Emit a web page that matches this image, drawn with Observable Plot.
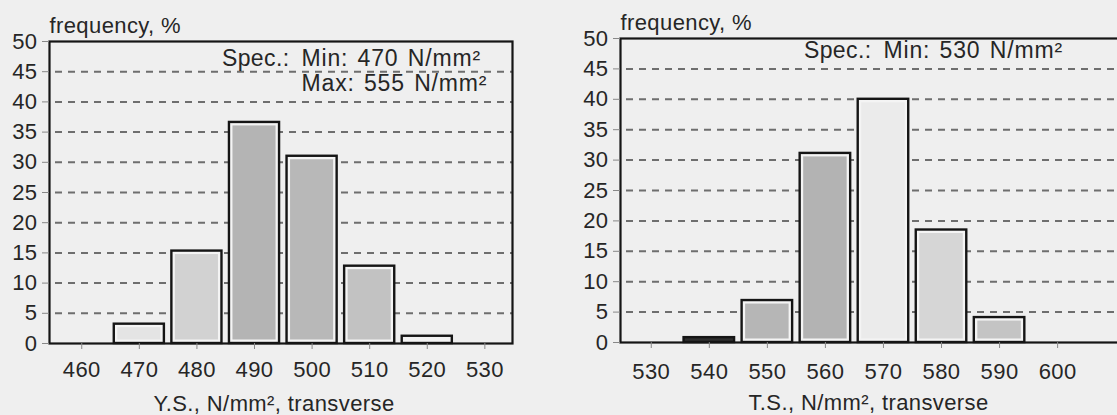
<!DOCTYPE html>
<html>
<head>
<meta charset="utf-8">
<script src="https://cdn.jsdelivr.net/npm/d3@7"></script>
<script src="https://cdn.jsdelivr.net/npm/@observablehq/plot@0.6"></script>
<style>
  html, body { margin: 0; padding: 0; background: #efefef; }
  #wrap { display: flex; width: 1117px; height: 415px; overflow: hidden; background: #efefef; }
  #wrap svg { flex: none; display: block; }
</style>
</head>
<body>
<div id="wrap"></div>
<script>
// ---- data ----
const ysBins = [470, 480, 490, 500, 510, 520];
const ysFreq = [3.2, 15.3, 36.6, 31.0, 12.8, 1.2];
const tsBins = [540, 550, 560, 570, 580, 590];
const tsFreq = [0.8, 6.9, 31.1, 40.0, 18.5, 4.1];
const ysTicks = [460, 470, 480, 490, 500, 510, 520, 530];
const tsTicks = [530, 540, 550, 560, 570, 580, 590, 600];
const yTicks = [0, 5, 10, 15, 20, 25, 30, 35, 40, 45, 50];
const yLabel = "frequency, %";
const ysTitle = "Y.S., N/mm², transverse";
const tsTitle = "T.S., N/mm², transverse";
const ysSpecHead = "Spec.:";
const ysSpecLines = ["Min: 470 N/mm²", "Max: 555 N/mm²"];
const tsSpecHead = "Spec.:";
const tsSpecLines = ["Min: 530 N/mm²"];

// ---- styles ----
const ysShades = ["#e4e4e4", "#d2d2d2", "#b4b4b4", "#b8b8b8", "#c2c2c2", "#f2f2f2"];
const tsShades = ["#2e2e2e", "#b6b6b6", "#b3b3b3", "#ebebeb", "#d6d6d6", "#c4c4c4"];
const HALF = 4.35;
const FONT = "'Liberation Sans', Arial, Helvetica, sans-serif";
const INK = "#262626";

function table(bins, freq, shades) {
  return bins.map((b, i) => ({bin: b, freq: freq[i], shade: shades[i]}));
}

function chart(o) {
  const data = table(o.bins, o.freq, o.shades);
  const marks = [
    Plot.gridY(yTicks.filter(v => v > 0 && v < 50), {
      stroke: "#6e6e6e", strokeOpacity: 1, strokeWidth: 2, strokeDasharray: "7,6", strokeDashoffset: -6
    }),
    Plot.rect(data, {x1: d => d.bin - HALF, x2: d => d.bin + HALF, y1: 0, y2: "freq",
      fill: d => (d.freq < 2 ? d.shade : "#f4f4f4"), stroke: "#151515", strokeWidth: 2.4}),
    Plot.rect(data.filter(d => d.freq >= 2), {x1: d => d.bin - HALF, x2: d => d.bin + HALF, y1: 0, y2: "freq",
      fill: "shade", inset: 3.5}),
    Plot.frame({stroke: "#151515", strokeWidth: 2.2}),
    Plot.axisY({ticks: yTicks, tickSize: 7, tickPadding: 5, label: null, stroke: "#888", fill: INK}),
    Plot.axisX({ticks: o.ticks, tickSize: 6, tickPadding: o.xPad, label: null, stroke: "#888", fill: INK,
      tickFormat: d => String(d)}),
    Plot.text([yLabel], {text: d => d, frameAnchor: "top-left", textAnchor: "start", lineAnchor: "bottom",
      dy: -9, fill: INK}),
    Plot.text([o.title], {text: d => d, frameAnchor: "bottom", lineAnchor: "bottom", dx: o.titleDx, dy: o.titleDy,
      fill: INK}),
    Plot.text([o.specHead], {text: d => d, frameAnchor: "top-right", textAnchor: "end", lineAnchor: "bottom",
      dx: o.specDx - 12, dy: o.specDy, fill: INK, fontSize: 23})
  ];
  o.specLines.forEach((s, i) => {
    marks.push(Plot.text([s], {text: d => d, frameAnchor: "top-right", textAnchor: "start", lineAnchor: "bottom",
      dx: o.specDx, dy: o.specDy + i * 25, fill: INK, fontSize: 23}));
  });
  const svg = Plot.plot({
    width: o.width, height: 415,
    marginLeft: o.ml, marginRight: o.mr, marginTop: o.mt, marginBottom: o.mb,
    x: {domain: o.xDomain},
    y: {domain: [0, 50]},
    style: {background: "transparent", fontFamily: FONT, fontSize: "22px", letterSpacing: "0.4px", overflow: "visible"},
    marks
  });
  // widen the spec lines' spacing like the original typesetting
  d3.select(svg).selectAll("text")
    .filter(function () { return o.specLines.includes(this.textContent); })
    .style("letter-spacing", "0.85px")
    .style("word-spacing", "2px");
  return svg;
}

const left = chart({
  bins: ysBins, freq: ysFreq, shades: ysShades, ticks: ysTicks, title: ysTitle,
  specHead: ysSpecHead, specLines: ysSpecLines,
  width: 560, ml: 49, mr: 48, mt: 41, mb: 72, xDomain: [454.4, 534.8], xPad: 12,
  titleDx: -7, titleDy: 67, specDx: -211, specDy: 24
});
const right = chart({
  bins: tsBins, freq: tsFreq, shades: tsShades, ticks: tsTicks, title: tsTitle,
  specHead: tsSpecHead, specLines: tsSpecLines,
  width: 572, ml: 60, mr: 0, mt: 38, mb: 73, xDomain: [524.7, 612.9], xPad: 15,
  titleDx: -8, titleDy: 67, specDx: -249, specDy: 19
});
document.getElementById("wrap").append(left, right);
</script>
</body>
</html>
